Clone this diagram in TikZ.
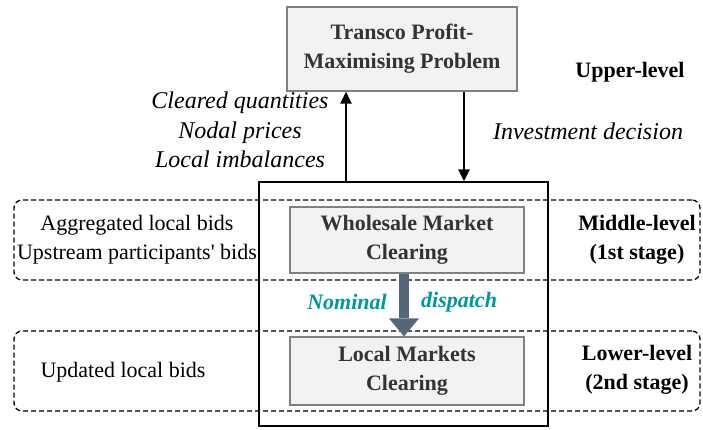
\documentclass[tikz,border=0pt]{standalone}
\usepackage{fontspec}
\setmainfont{Liberation Serif}
\usetikzlibrary{arrows.meta}

\definecolor{boxgray}{HTML}{F2F2F2}
\definecolor{boxline}{HTML}{808080}
\definecolor{boxtext}{HTML}{333333}
\definecolor{dispatchteal}{HTML}{009999}
\definecolor{slate}{HTML}{56667A}

\tikzset{
  stagebox/.style={draw=boxline, fill=boxgray, line width=1.2pt, text=boxtext,
    font=\fontsize{22}{29}\selectfont\bfseries, align=center,
    minimum width=234pt, minimum height=66pt, inner sep=0pt},
  levelband/.style={draw, dash pattern=on 5pt off 3pt, line width=1.3pt, rounded corners=8pt,
    minimum width=686pt, minimum height=80pt, inner sep=0pt},
  sidetext/.style={font=\fontsize{22}{29}\selectfont, align=center},
  flowtext/.style={font=\fontsize{24}{29.5}\selectfont\itshape, align=center},
  leveltext/.style={font=\fontsize{22}{28.5}\selectfont\bfseries, align=center},
  flow/.style={-{Triangle[length=12pt,width=11pt]}, line width=2.5pt},
}

\begin{document}
\begin{tikzpicture}[x=1pt, y=-1pt]
\useasboundingbox (0,0) rectangle (703,429);

% dashed bands for the two market stages
\node[levelband] (midband) at (357,240) {};
\node[levelband] (lowband) at (357,371) {};
% frame round both clearings
\node[draw, line width=1.3pt, minimum width=289pt, minimum height=244pt, inner sep=0pt] (outer) at (403.5,304) {};

\node[stagebox, minimum width=230pt, minimum height=84pt] (transco) at (402,49) {Transco Profit-\\Maximising Problem};
\node[stagebox] (wholesale) at (407,240) {Wholesale Market\\Clearing};
\node[stagebox, minimum height=68pt] (localmk) at (407,371) {Local Markets\\Clearing};

% exchange with the upper level
\draw[flow] ([xshift=-57.5]outer.north) -- ([xshift=-57.5]outer.north |- transco.south);
\draw[flow] ([xshift=62]transco.south) -- ([xshift=62]transco.south |- outer.north);

\node[flowtext] (feedback) at (240,130) {Cleared quantities\\Nodal prices\\Local imbalances};
\node[flowtext] (invest) at (588,131) {Investment decision};
\node[sidetext] (aggbids) at (137,240) {Aggregated local bids\\Upstream participants\textquotesingle{} bids};
\node[sidetext] (updbids) at (123,372) {Updated local bids};
\node[leveltext] (upper) at (630,72) {Upper-level};
\node[leveltext] (middle) at (637,240) {Middle-level\\(1st stage)};
\node[leveltext] (lower) at (637,370) {Lower-level\\(2nd stage)};

% nominal dispatch passed down
\draw[line width=10pt, slate, -{Triangle[length=18pt,width=30pt,line width=0pt]}] ([xshift=-3]wholesale.south) -- ([xshift=-3]localmk.north);
\node[font=\fontsize{22}{28}\selectfont\bfseries\itshape, text=dispatchteal, anchor=east, inner sep=0pt] (nominal) at (387,302) {Nominal};
\node[font=\fontsize{22}{28}\selectfont\bfseries\itshape, text=dispatchteal, anchor=west, inner sep=0pt] (dispatch) at (421,302) {dispatch};

\end{tikzpicture}
\end{document}
